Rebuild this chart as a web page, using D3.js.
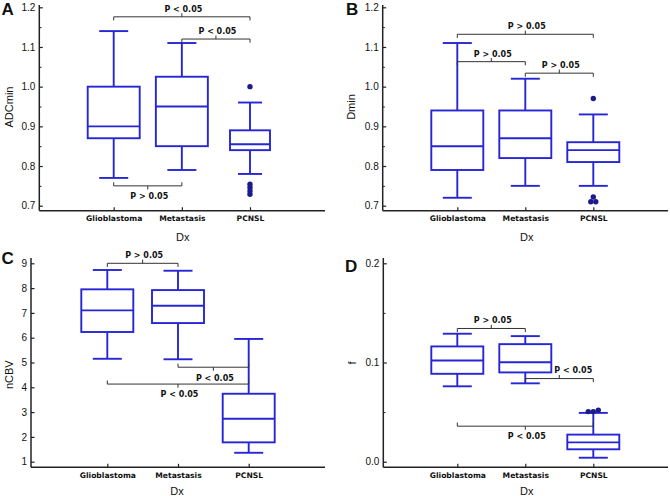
<!DOCTYPE html>
<html><head><meta charset="utf-8">
<script src="https://cdn.jsdelivr.net/npm/d3@7"></script>
<style>body{margin:0;background:#fff} svg{display:block}</style>
</head><body>
<svg id="c" width="670" height="496"></svg>
<script>
// ---------- DATA ----------
const categories = ["Glioblastoma", "Metastasis", "PCNSL"];
// box stats per category: [lowWhisker, q1, median, q3, highWhisker]
const adcminStats = [[0.77, 0.87, 0.90, 1.00, 1.14], [0.79, 0.85, 0.95, 1.025, 1.11], [0.78, 0.84, 0.855, 0.89, 0.96]];
const adcminOutliers = [[], [], [1.00, 0.754, 0.746, 0.737, 0.729]];
const dminStats = [[0.72, 0.79, 0.85, 0.94, 1.11], [0.75, 0.82, 0.87, 0.94, 1.02], [0.75, 0.81, 0.84, 0.86, 0.93]];
const dminOutliers = [[], [], [0.97, 0.722, 0.71, 0.71]];
const ncbvStats = [[5.15, 6.23, 7.10, 7.95, 8.73], [5.13, 6.59, 7.29, 7.92, 8.70], [1.36, 1.78, 2.73, 3.74, 5.95]];
const ncbvOutliers = [[], [], []];
const fStats = [[0.076, 0.0886, 0.102, 0.1162, 0.129], [0.079, 0.090, 0.1003, 0.1185, 0.1266], [0.004, 0.0125, 0.0195, 0.0273, 0.0492]];
const fOutliers = [[], [], [0.0505, 0.0505, 0.052]];

const adcminTicks = [0.7, 0.8, 0.9, 1.0, 1.1, 1.2];
const adcminMinor = [0.75, 0.85, 0.95, 1.05, 1.15];
const dminTicks = [0.7, 0.8, 0.9, 1.0, 1.1, 1.2];
const dminMinor = [0.75, 0.85, 0.95, 1.05, 1.15];
const ncbvTicks = [1, 2, 3, 4, 5, 6, 7, 8, 9];
const ncbvMinor = [];
const fTicks = [0.0, 0.1, 0.2];
const fMinor = [0.05, 0.15];

// significance brackets: [fromCategoryIndex, toCategoryIndex, level (data units), opens ("up"/"down"), label]
const adcminBrackets = [[0, 2, 1.176, "up", "P < 0.05"], [1, 2, 1.12, "up", "P < 0.05"], [0, 1, 0.750, "down", "P > 0.05"]];
const dminBrackets = [[0, 2, 1.132, "up", "P > 0.05"], [0, 1, 1.063, "up", "P > 0.05"], [1, 2, 1.034, "up", "P > 0.05"]];
const ncbvBrackets = [[0, 1, 9.0, "up", "P > 0.05"], [1, 2, 4.81, "down", "P < 0.05"], [0, 2, 4.13, "down", "P < 0.05"]];
const fBrackets = [[0, 1, 0.1343, "up", "P > 0.05"], [1, 2, 0.0838, "up", "P < 0.05"], [0, 2, 0.0358, "down", "P < 0.05"]];

const panelLetters = ["A", "B", "C", "D"];
const yTitles = ["ADCmin", "Dmin", "nCBV", "f"];
const xTitle = "Dx";

// ---------- LAYOUT / STYLE ----------
const BLUE = "#2626d6", DOT = "#1b1b8c", INK = "#222";
const panels = [
  {letter: 0, title: 0, stats: adcminStats, outs: adcminOutliers, ticks: adcminTicks, minor: adcminMinor, fmt: ".1f", brackets: adcminBrackets,
   axisX: 39.3, xRight: 325, yTop: 5, yBottom: 210.7, yRange: [205.7, 7.3], domain: [0.7, 1.2], catRange: [113.7, 250],
   boxW: [52, 52, 40], capW: [29, 29, 24], labelDx: [1.5, 1.5, 1.5], labelUp: [5, 5, 5],
   letterPos: [1.5, 15], yTitlePos: [8.5, 107], xTitlePos: [182.7, 240.5], catPad: 5},
  {letter: 1, title: 1, stats: dminStats, outs: dminOutliers, ticks: dminTicks, minor: dminMinor, fmt: ".1f", brackets: dminBrackets,
   axisX: 382.7, xRight: 668, yTop: 5, yBottom: 210.7, yRange: [205.7, 7.3], domain: [0.7, 1.2], catRange: [457.3, 593.3],
   boxW: [52, 52, 52], capW: [29, 29, 29], labelDx: [1.5, 1.5, 1.5], labelUp: [5, 5, 5],
   letterPos: [346, 14.5], yTitlePos: [350.5, 107], xTitlePos: [526.7, 240.5], catPad: 5},
  {letter: 2, title: 2, stats: ncbvStats, outs: ncbvOutliers, ticks: ncbvTicks, minor: ncbvMinor, fmt: "d", brackets: ncbvBrackets,
   axisX: 31, xRight: 325, yTop: 258, yBottom: 467.3, yRange: [461.7, 263.3], domain: [1, 9], catRange: [107.3, 248.7],
   boxW: [52, 52, 52], capW: [29, 29, 29], labelDx: [1.5, 1.5, 1.5], labelUp: [5, 5, 5],
   letterPos: [1.5, 263.5], yTitlePos: [8.5, 374.7], xTitlePos: [177, 494.5], catPad: 5.5},
  {letter: 3, title: 3, stats: fStats, outs: fOutliers, ticks: fTicks, minor: fMinor, fmt: ".1f", brackets: fBrackets,
   axisX: 383.3, xRight: 668, yTop: 258, yBottom: 467.3, yRange: [461.7, 263.3], domain: [0, 0.2], catRange: [457.3, 593.3],
   boxW: [52, 52, 52], capW: [29, 29, 29], labelDx: [1.5, 14, 1.5], labelUp: [5, 5.3, 5],
   letterPos: [345, 272], yTitlePos: [351.7, 363], xTitlePos: [526.7, 494.5], catPad: 5}
];

const svg = d3.select("#c");

panels.forEach(p => {
  const g = svg.append("g");
  const y = d3.scaleLinear().domain(p.domain).range(p.yRange);
  const x = d3.scalePoint().domain(categories).range(p.catRange);

  // y axis (ticks inward, labels left)
  const ya = g.append("g").attr("transform", `translate(${p.axisX},0)`)
    .call(d3.axisLeft(y).tickValues(p.ticks).tickFormat(d3.format(p.fmt)).tickSizeInner(-3.5).tickSizeOuter(0).tickPadding(4));
  ya.select(".domain").remove();
  ya.selectAll("line").attr("stroke", INK).attr("stroke-width", 1.2);
  ya.selectAll("text").attr("font-family", "Liberation Sans, Arial, sans-serif").attr("font-size", 10).attr("fill", "#111");
  if (p.minor.length) {
    const ym = g.append("g").attr("transform", `translate(${p.axisX},0)`)
      .call(d3.axisLeft(y).tickValues(p.minor).tickFormat("").tickSizeInner(-2.2).tickSizeOuter(0));
    ym.select(".domain").remove();
    ym.selectAll("line").attr("stroke", INK).attr("stroke-width", 1);
  }

  // x axis (ticks inward, labels below)
  const xa = g.append("g").attr("transform", `translate(0,${p.yBottom})`)
    .call(d3.axisBottom(x).tickSizeInner(-3.5).tickSizeOuter(0).tickPadding(p.catPad));
  xa.select(".domain").remove();
  xa.selectAll("line").attr("stroke", INK).attr("stroke-width", 1.2);
  xa.selectAll("text").attr("font-family", "DejaVu Sans, Verdana, sans-serif").attr("font-weight", "bold")
    .attr("font-size", 7.6).attr("fill", "#111");

  // spines
  g.append("line").attr("x1", p.axisX).attr("x2", p.axisX).attr("y1", p.yTop).attr("y2", p.yBottom)
    .attr("stroke", INK).attr("stroke-width", 1.5);
  g.append("line").attr("x1", p.axisX).attr("x2", p.xRight).attr("y1", p.yBottom).attr("y2", p.yBottom)
    .attr("stroke", INK).attr("stroke-width", 1.5);

  // boxes
  p.stats.forEach((s, i) => {
    const cx = x(categories[i]);
    const bw = p.boxW[i], cw = p.capW[i];
    const [lo, q1, md, q3, hi] = s;
    const bg = g.append("g").attr("stroke", BLUE).attr("stroke-width", 1.9).attr("fill", "none");
    bg.append("line").attr("x1", cx).attr("x2", cx).attr("y1", y(q3)).attr("y2", y(hi));
    bg.append("line").attr("x1", cx).attr("x2", cx).attr("y1", y(q1)).attr("y2", y(lo));
    bg.append("line").attr("x1", cx - cw / 2).attr("x2", cx + cw / 2).attr("y1", y(hi)).attr("y2", y(hi));
    bg.append("line").attr("x1", cx - cw / 2).attr("x2", cx + cw / 2).attr("y1", y(lo)).attr("y2", y(lo));
    bg.append("rect").attr("x", cx - bw / 2).attr("y", y(q3)).attr("width", bw).attr("height", y(q1) - y(q3));
    bg.append("line").attr("x1", cx - bw / 2).attr("x2", cx + bw / 2).attr("y1", y(md)).attr("y2", y(md));

    // outliers, spread horizontally when overlapping
    const vals = p.outs[i].slice().sort((a, b) => a - b);
    const groups = [];
    vals.forEach(v => {
      const last = groups[groups.length - 1];
      if (last && Math.abs(y(v) - y(last[0])) < 2.5) last.push(v); else groups.push([v]);
    });
    groups.forEach(gr => {
      gr.forEach((v, k) => {
        g.append("circle").attr("cx", cx + (k - (gr.length - 1) / 2) * 5).attr("cy", y(v)).attr("r", 2.7)
          .attr("fill", DOT);
      });
    });
  });

  // significance brackets
  p.brackets.forEach(([a, b, lvl, dir, lab], j) => {
    const x1 = x(categories[a]), x2 = x(categories[b]), xm = (x1 + x2) / 2, yl = y(lvl);
    const s = dir === "up" ? 1 : -1;
    g.append("path")
      .attr("d", `M${x1},${yl + s * 3.6}L${x1},${yl}L${x2},${yl}L${x2},${yl + s * 3.6}M${xm},${yl}L${xm},${yl - s * 3.6}`)
      .attr("fill", "none").attr("stroke", "#333").attr("stroke-width", 1);
    g.append("text").attr("x", xm + p.labelDx[j]).attr("y", dir === "up" ? yl - p.labelUp[j] : yl + 13.3)
      .attr("text-anchor", "middle").attr("font-family", "DejaVu Sans, Verdana, sans-serif")
      .attr("font-weight", "bold").attr("font-size", 8).attr("fill", "#111").text(lab);
  });

  // titles and letters
  g.append("text").attr("transform", `translate(${p.yTitlePos[0]},${p.yTitlePos[1]}) rotate(-90)`)
    .attr("text-anchor", "middle").attr("dominant-baseline", "central")
    .attr("font-family", "Liberation Sans, Arial, sans-serif").attr("font-size", 11).attr("fill", "#111").text(yTitles[p.title]);
  g.append("text").attr("x", p.xTitlePos[0]).attr("y", p.xTitlePos[1]).attr("text-anchor", "middle")
    .attr("font-family", "Liberation Sans, Arial, sans-serif").attr("font-size", 11).attr("fill", "#111").text(xTitle);
  g.append("text").attr("x", p.letterPos[0]).attr("y", p.letterPos[1])
    .attr("font-family", "Liberation Sans, Arial, sans-serif").attr("font-weight", "bold").attr("font-size", 17)
    .attr("fill", "#111").text(panelLetters[p.letter]);
});
</script>
</body></html>
